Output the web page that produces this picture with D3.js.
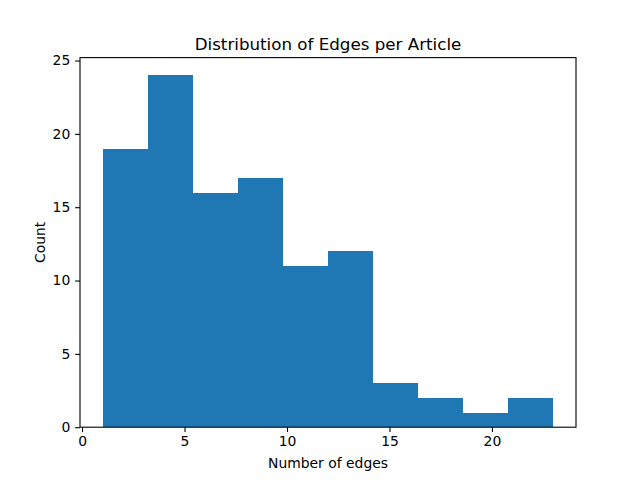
<!DOCTYPE html>
<html><head><meta charset="utf-8">
<script src="https://cdn.jsdelivr.net/npm/d3@7"></script>
<style>body{margin:0;background:#fff}svg{display:block}</style>
</head><body>
<script>
const binEdges = [1, 3.2, 5.4, 7.6, 9.8, 12, 14.2, 16.4, 18.6, 20.8, 23];
const counts = [19, 24, 16, 17, 11, 12, 3, 2, 1, 2];
const xTicks = [0, 5, 10, 15, 20];
const yTicks = [0, 5, 10, 15, 20, 25];
const title = "Distribution of Edges per Article";
const xLabel = "Number of edges";
const yLabel = "Count";

const W = 640, H = 480;
const mLeft = 80, mRight = 576, mTop = 57.6, mBottom = 427.2;
const font = "DejaVu Sans, sans-serif";
const fs = 13.9;

const svg = d3.select("body").append("svg").attr("width", W).attr("height", H);
const x = d3.scaleLinear().domain([-0.1, 24.1]).range([mLeft, mRight]);
const y = d3.scaleLinear().domain([0, 25.2]).range([mBottom, mTop]);

const bins = counts.map((c, i) => ({x0: binEdges[i], x1: binEdges[i + 1], c}));
svg.append("g").attr("shape-rendering", "crispEdges").selectAll("rect").data(bins).join("rect")
  .attr("x", d => Math.round(x(d.x0))).attr("width", d => Math.round(x(d.x1)) - Math.round(x(d.x0)))
  .attr("y", d => Math.round(y(d.c))).attr("height", d => Math.round(y(0)) - Math.round(y(d.c)))
  .attr("fill", "#1f77b4");

const xAxis = svg.append("g").attr("transform", `translate(0,${mBottom})`)
  .call(d3.axisBottom(x).tickValues(xTicks).tickFormat(d3.format("d")).tickSize(4.86).tickPadding(4).tickSizeOuter(0));
const yAxis = svg.append("g").attr("transform", `translate(${mLeft},0)`)
  .call(d3.axisLeft(y).tickValues(yTicks).tickFormat(d3.format("d")).tickSize(4.86).tickPadding(4.86).tickSizeOuter(0));
[xAxis, yAxis].forEach(g => {
  g.select(".domain").remove();
  g.selectAll("line").attr("stroke", "#000").attr("stroke-width", 1.1);
  g.selectAll("text").attr("font-family", font).attr("font-size", fs).attr("fill", "#000");
});

svg.append("rect").attr("x", mLeft).attr("y", mTop).attr("width", mRight - mLeft).attr("height", mBottom - mTop)
  .attr("fill", "none").attr("stroke", "#000").attr("stroke-width", 1.1);

svg.append("text").attr("x", (mLeft + mRight) / 2).attr("y", 49.5).attr("text-anchor", "middle")
  .attr("font-family", font).attr("font-size", 16.7).text(title);
svg.append("text").attr("x", (mLeft + mRight) / 2).attr("y", 468).attr("text-anchor", "middle")
  .attr("font-family", font).attr("font-size", fs).text(xLabel);
svg.append("text").attr("transform", `translate(45,${(mTop + mBottom) / 2}) rotate(-90)`).attr("text-anchor", "middle")
  .attr("font-family", font).attr("font-size", fs).text(yLabel);
</script>
</body></html>
